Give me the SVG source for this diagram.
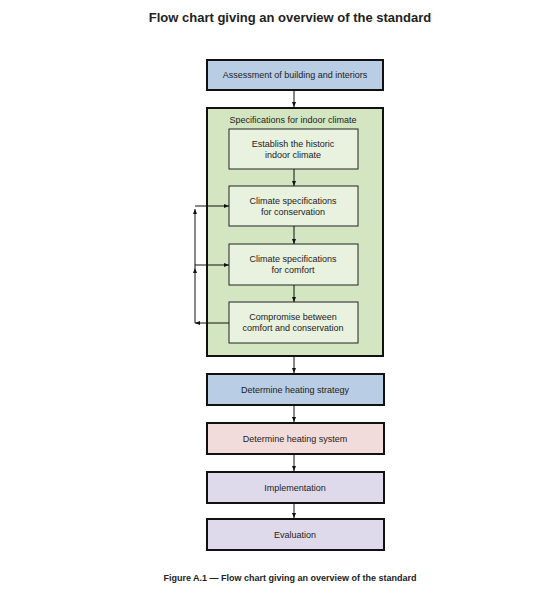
<svg xmlns="http://www.w3.org/2000/svg" width="537" height="601" viewBox="0 0 537 601">
<style>
text{font-family:"Liberation Sans",Arial,sans-serif;fill:#222;text-anchor:middle}
.t{font-size:9px}
.main{stroke:#111;stroke-width:2}
.inner{fill:#e9f1df;stroke:#222;stroke-width:1}
.c{stroke:#111;stroke-width:1;fill:none}
</style>
<defs>
<marker id="ah" viewBox="0 0 10 10" refX="10" refY="5" markerWidth="5" markerHeight="5" orient="auto" markerUnits="userSpaceOnUse">
<path d="M0,1 L10,5 L0,9 z" fill="#111"/>
</marker>
</defs>
<rect width="537" height="601" fill="#fff"/>
<text x="290" y="22" font-size="13" font-weight="bold" fill="#111">Flow chart giving an overview of the standard</text>
<g id="n1"><rect class="main" x="207" y="60" width="176" height="30" fill="#b9cde5"/><text class="t" x="295" y="78">Assessment of building and interiors</text></g>
<g id="n2"><rect class="main" x="207" y="108" width="176" height="248" fill="#d4e5c1"/><text class="t" x="293" y="123">Specifications for indoor climate</text></g>
<g id="n3"><rect class="inner" x="229" y="129" width="129" height="40"/><text class="t" x="293" y="147">Establish the historic</text><text class="t" x="293" y="158">indoor climate</text></g>
<g id="n4"><rect class="inner" x="229" y="186" width="129" height="40"/><text class="t" x="293" y="204">Climate specifications</text><text class="t" x="293" y="215">for conservation</text></g>
<g id="n5"><rect class="inner" x="229" y="244" width="129" height="41"/><text class="t" x="293" y="262">Climate specifications</text><text class="t" x="293" y="273">for comfort</text></g>
<g id="n6"><rect class="inner" x="229" y="302" width="129" height="41"/><text class="t" x="293" y="320">Compromise between</text><text class="t" x="293" y="331">comfort and conservation</text></g>
<g id="n7"><rect class="main" x="207" y="374" width="177" height="31" fill="#b9cde5"/><text class="t" x="295" y="393">Determine heating strategy</text></g>
<g id="n8"><rect class="main" x="207" y="423" width="177" height="31" fill="#f2dcdb"/><text class="t" x="295" y="442">Determine heating system</text></g>
<g id="n9"><rect class="main" x="207" y="472" width="177" height="31" fill="#dedaec"/><text class="t" x="295" y="491">Implementation</text></g>
<g id="n10"><rect class="main" x="207" y="519" width="177" height="31" fill="#dedaec"/><text class="t" x="295" y="538">Evaluation</text></g>
<g id="connectors">
<path class="c" d="M294,91 V107" marker-end="url(#ah)"/>
<path class="c" d="M294,169 V186" marker-end="url(#ah)"/>
<path class="c" d="M294,226 V244" marker-end="url(#ah)"/>
<path class="c" d="M294,285 V302" marker-end="url(#ah)"/>
<path class="c" d="M294,357 V373" marker-end="url(#ah)"/>
<path class="c" d="M294,406 V422" marker-end="url(#ah)"/>
<path class="c" d="M294,455 V471" marker-end="url(#ah)"/>
<path class="c" d="M294,504 V518" marker-end="url(#ah)"/>
<path class="c" d="M229,323 H195" marker-end="url(#ah)"/>
<path class="c" d="M195,323 V268" marker-end="url(#ah)"/>
<path class="c" d="M195,268 V209" marker-end="url(#ah)"/>
<path class="c" d="M195,206 H229" marker-end="url(#ah)"/>
<path class="c" d="M195,265 H229" marker-end="url(#ah)"/>
</g>
<text x="290" y="581" font-size="9" font-weight="bold" fill="#111">Figure A.1 — Flow chart giving an overview of the standard</text>
</svg>
